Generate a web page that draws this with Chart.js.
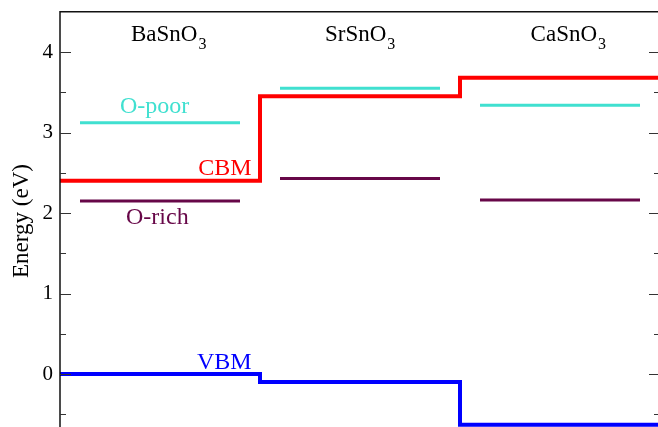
<!DOCTYPE html>
<html>
<head>
<meta charset="utf-8">
<script src="https://cdn.jsdelivr.net/npm/chart.js@4/dist/chart.umd.min.js"></script>
<style>
  html, body { margin: 0; padding: 0; background: #fff; }
  #wrap { width: 658px; height: 427px; overflow: hidden; position: relative; }
  #c { position: absolute; left: 0; top: 0; }
</style>
</head>
<body>
<div id="wrap"><canvas id="c" width="680" height="450"></canvas></div>
<script>
// Band-edge and defect-level energies (eV) for the three stannates
const compounds = ['BaSnO', 'SrSnO', 'CaSnO'];
const formulaSub = '3';
const cbm   = [2.40, 3.45, 3.68];
const vbm   = [0.00, -0.10, -0.63];
const oPoor = [3.12, 3.55, 3.34];
const oRich = [2.15, 2.43, 2.16];
const yTicks = [-0.5, 0, 0.5, 1, 1.5, 2, 2.5, 3, 3.5, 4];

const SERIF = '"Liberation Serif", "Times New Roman", serif';
const COLORS = { cbm: '#ff0000', vbm: '#0000ff', poor: '#40e0d0', rich: '#670748' };
Chart.defaults.font.family = SERIF;

// Band edges as step lines across each compound's unit-wide column
const stepLevels = vals => [
  ...vals.map((v, i) => ({ x: i, y: v })),
  { x: vals.length, y: vals[vals.length - 1] }
];
// Defect levels as short bars inside each column (null breaks the line)
const shortLevels = vals => vals.flatMap((v, i) => [
  { x: i + 0.1, y: v }, { x: i + 0.9, y: v }, { x: i + 1, y: null }
]);

// Text placed in data coordinates
const headerX = [0.355, 1.325, 2.353];
const headerY = 4.14;
const notes = [
  { text: 'O-poor', x: 0.30,  y: 3.246, align: 'left',  color: COLORS.poor },
  { text: 'CBM',    x: 0.958, y: 2.47,  align: 'right', color: COLORS.cbm },
  { text: 'O-rich', x: 0.33,  y: 1.863, align: 'left',  color: COLORS.rich },
  { text: 'VBM',    x: 0.958, y: 0.058, align: 'right', color: COLORS.vbm }
];

const frameAndText = {
  id: 'frameAndText',
  afterDatasetsDraw(chart) {
    const { ctx, chartArea: a, scales: { x, y } } = chart;
    ctx.save();
    // frame
    ctx.strokeStyle = '#111';
    ctx.lineWidth = 1.5;
    ctx.strokeRect(a.left, a.top, a.right - a.left, a.bottom - a.top);
    // inward ticks on both sides
    ctx.lineWidth = 1.2;
    ctx.strokeStyle = '#333';
    yTicks.forEach(t => {
      const py = Math.round(y.getPixelForValue(t)) + 0.5;
      const len = Number.isInteger(t) ? 11 : 6;
      ctx.beginPath();
      ctx.moveTo(a.left, py); ctx.lineTo(a.left + len, py);
      ctx.moveTo(a.right, py); ctx.lineTo(a.right - len, py);
      ctx.stroke();
    });
    // compound headers with subscript
    ctx.fillStyle = '#000';
    ctx.textBaseline = 'alphabetic';
    compounds.forEach((name, i) => {
      const px = x.getPixelForValue(headerX[i]);
      const py = y.getPixelForValue(headerY);
      ctx.font = '23px ' + SERIF;
      ctx.textAlign = 'left';
      ctx.fillText(name, px, py);
      const w = ctx.measureText(name).width;
      ctx.font = '16px ' + SERIF;
      ctx.fillText(formulaSub, px + w + 1, py + 8.5);
    });
    // level labels
    ctx.font = '24px ' + SERIF;
    notes.forEach(n => {
      ctx.fillStyle = n.color;
      ctx.textAlign = n.align;
      ctx.fillText(n.text, x.getPixelForValue(n.x), y.getPixelForValue(n.y));
    });
    // axis title
    ctx.fillStyle = '#000';
    ctx.font = '23px ' + SERIF;
    ctx.textAlign = 'center';
    ctx.translate(28, 221);
    ctx.rotate(-Math.PI / 2);
    ctx.fillText('Energy (eV)', 0, 0);
    ctx.restore();
  }
};

new Chart(document.getElementById('c'), {
  type: 'line',
  data: {
    datasets: [
      { label: 'CBM', data: stepLevels(cbm), stepped: true, borderColor: COLORS.cbm, borderWidth: 4 },
      { label: 'VBM', data: stepLevels(vbm), stepped: true, borderColor: COLORS.vbm, borderWidth: 4 },
      { label: 'O-poor', data: shortLevels(oPoor), borderColor: COLORS.poor, borderWidth: 3 },
      { label: 'O-rich', data: shortLevels(oRich), borderColor: COLORS.rich, borderWidth: 3 }
    ]
  },
  options: {
    responsive: false,
    animation: false,
    devicePixelRatio: 1,
    elements: { point: { radius: 0, hoverRadius: 0 }, line: { tension: 0 } },
    layout: { autoPadding: false, padding: { top: 11.75, right: 20, bottom: 19.65, left: 0 } },
    plugins: { legend: { display: false }, tooltip: { enabled: false } },
    scales: {
      x: { type: 'linear', min: 0, max: 3, display: false },
      y: {
        type: 'linear', min: -0.7, max: 4.5,
        afterFit(scale) {
          scale.width = 60;
          scale.paddingTop = 0;
          scale.paddingBottom = 0;
        },
        afterBuildTicks(scale) { scale.ticks = yTicks.map(v => ({ value: v })); },
        grid: { display: false, drawTicks: false },
        border: { display: false },
        ticks: {
          padding: 7,
          color: '#000',
          font: { family: SERIF, size: 21 },
          callback: v => Number.isInteger(v) ? String(v) : ''
        }
      }
    }
  },
  plugins: [frameAndText]
});
</script>
</body>
</html>
